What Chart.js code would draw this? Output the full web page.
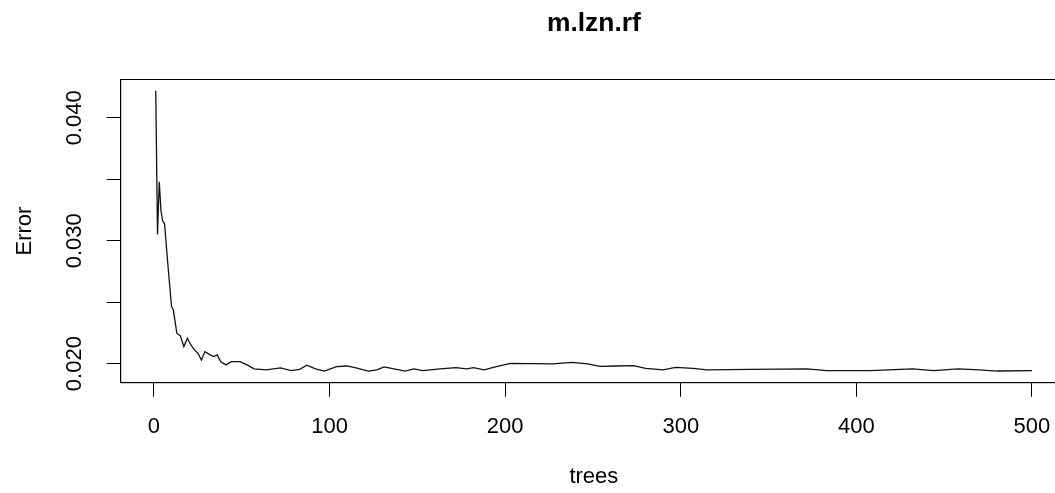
<!DOCTYPE html>
<html>
<head>
<meta charset="utf-8">
<script src="https://cdn.jsdelivr.net/npm/chart.js@4"></script>
<style>
  html, body { margin: 0; padding: 0; background: #fff; overflow: hidden; }
  #wrap { width: 1080px; height: 493px; }
</style>
</head>
<body>
<div id="wrap"><canvas id="c" width="1080" height="493"></canvas></div>
<script>
// Number of trees (x) and OOB error (y)
const trees = [1,2,3,4,5,6,8,10,11,13,15,17,19,21,23,25,27,29,32,34,36,38,41,44,49,53,57,64,72,78,83,87,92,97,104,110,115,122,127,131,136,143,148,153,163,172,178,182,188,195,203,214,227,238,247,254,263,273,280,290,297,307,315,340,372,383,408,432,444,458,470,480,500];
const errors = [0.0422,0.0305,0.0348,0.0324,0.0316,0.0314,0.0279,0.02465,0.02438,0.02248,0.02226,0.02139,0.02207,0.02152,0.02112,0.02085,0.0203,0.02098,0.02071,0.02057,0.02071,0.02016,0.0199,0.02016,0.02016,0.0199,0.01957,0.01949,0.01965,0.01943,0.01954,0.01987,0.01957,0.0194,0.01976,0.01981,0.01965,0.0194,0.01949,0.01974,0.0196,0.0194,0.01957,0.01943,0.01957,0.01967,0.01957,0.01967,0.01949,0.01976,0.02003,0.02,0.01998,0.0201,0.01998,0.01978,0.01981,0.01984,0.01962,0.01949,0.01969,0.01962,0.01949,0.01954,0.01957,0.01943,0.01943,0.01957,0.01943,0.01957,0.01949,0.0194,0.01943];

const xTicks = [0, 100, 200, 300, 400, 500];
const xTickLabels = ['0', '100', '200', '300', '400', '500'];
const yTicks = [0.020, 0.025, 0.030, 0.035, 0.040];
const yTickLabels = ['0.020', '', '0.030', '', '0.040'];

const titleText = 'm.lzn.rf';
const xTitle = 'trees';
const yTitle = 'Error';

const FONT = '"Liberation Sans", Arial, Helvetica, sans-serif';

const points = trees.map((t, i) => ({ x: t, y: errors[i] }));

const framePlugin = {
  id: 'frame',
  afterDraw(chart) {
    const a = chart.chartArea;
    const ctx = chart.ctx;
    ctx.save();
    ctx.strokeStyle = '#000';
    ctx.lineWidth = 1;
    ctx.strokeRect(a.left, a.top, a.right - a.left, a.bottom - a.top);
    ctx.restore();
  }
};

new Chart(document.getElementById('c'), {
  type: 'line',
  data: {
    datasets: [{
      data: points,
      borderColor: '#111',
      borderWidth: 1.3,
      pointRadius: 0,
      tension: 0,
      fill: false
    }]
  },
  options: {
    responsive: false,
    animation: false,
    events: [],
    layout: { padding: { left: 0, right: 13, top: 0, bottom: 0 } },
    plugins: {
      legend: { display: false },
      tooltip: { enabled: false },
      title: {
        display: true,
        text: titleText,
        fullSize: false,
        color: '#000',
        font: { family: FONT, size: 26.4, weight: 'bold' },
        padding: { top: 8.16, bottom: 39.66 }
      }
    },
    scales: {
      x: {
        type: 'linear',
        min: -18.96,
        max: 519.96,
        afterBuildTicks: s => { s.ticks = xTicks.map(v => ({ value: v })); },
        afterFit: s => { s.height = 110.3; },
        ticks: {
          autoSkip: false,
          maxRotation: 0,
          color: '#000',
          font: { family: FONT, size: 22 },
          padding: 17,
          callback: (v) => { const i = xTicks.indexOf(v); return i >= 0 ? xTickLabels[i] : ''; }
        },
        grid: { display: true, drawOnChartArea: false, drawTicks: true, tickLength: 14, color: '#000', lineWidth: 1 },
        border: { display: true, color: '#000', width: 1 },
        title: {
          display: true, text: xTitle, color: '#000',
          font: { family: FONT, size: 22 },
          padding: { top: 0, bottom: 3 }
        }
      },
      y: {
        type: 'linear',
        min: 0.01845,
        max: 0.04312,
        afterBuildTicks: s => { s.ticks = yTicks.map(v => ({ value: v })); },
        afterFit: s => { s.width = 120.7; },
        ticks: {
          autoSkip: false,
          minRotation: 90,
          maxRotation: 90,
          crossAlign: 'center',
          color: '#000',
          font: { family: FONT, size: 22 },
          padding: 4,
          callback: (v) => { const i = yTicks.findIndex(t => Math.abs(t - v) < 1e-9); return i >= 0 ? yTickLabels[i] : ''; }
        },
        grid: { display: true, drawOnChartArea: false, drawTicks: true, tickLength: 14, color: '#000', lineWidth: 1 },
        border: { display: true, color: '#000', width: 1 },
        title: {
          display: true, text: yTitle, color: '#000',
          font: { family: FONT, size: 22 },
          padding: { top: 12, bottom: 0 }
        }
      }
    }
  },
  plugins: [framePlugin]
});
</script>
</body>
</html>
